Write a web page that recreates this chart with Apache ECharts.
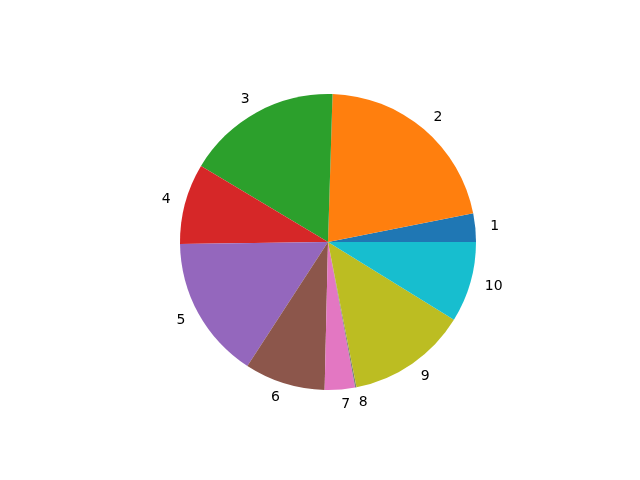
<!DOCTYPE html>
<html>
<head>
<meta charset="utf-8">
<script src="https://cdn.jsdelivr.net/npm/echarts@6/dist/echarts.min.js"></script>
<style>
    html, body { margin: 0; padding: 0; background: #fff; }
    #chartWrap { width: 640px; height: 480px; }
</style>
</head>
<body>
<div id="chartWrap"></div>
<script>
// slice labels and values
const labels = ['1', '2', '3', '4', '5', '6', '7', '8', '9', '10'];
const values = [3.1, 21.4, 16.9, 8.8, 15.6, 8.8, 3.3, 0.15, 13.1, 8.8];
const colors = ['#1f77b4', '#ff7f0e', '#2ca02c', '#d62728', '#9467bd',
    '#8c564b', '#e377c2', '#7f7f7f', '#bcbd22', '#17becf'];

let myChart = echarts.init(document.getElementById('chartWrap'));

let data = labels.map(function (name, i) {
    return {name: name, value: values[i]};
});

myChart.setOption({
    color: colors,
    animation: false,
    series: [
        {
            type: 'pie',
            center: [328, 242],
            radius: [0, 148],
            startAngle: 0,
            clockwise: false,
            minAngle: 0,
            avoidLabelOverlap: false,
            itemStyle: {borderWidth: 0},
            label: {
                show: true,
                position: 'outer',
                alignTo: 'none',
                distanceToLabelLine: 0,
                color: '#000',
                fontFamily: 'DejaVu Sans',
                fontSize: 14
            },
            labelLine: {show: false, length: 15, length2: 0},
            emphasis: {disabled: true},
            data: data
        }
    ]
});
</script>
</body>
</html>
